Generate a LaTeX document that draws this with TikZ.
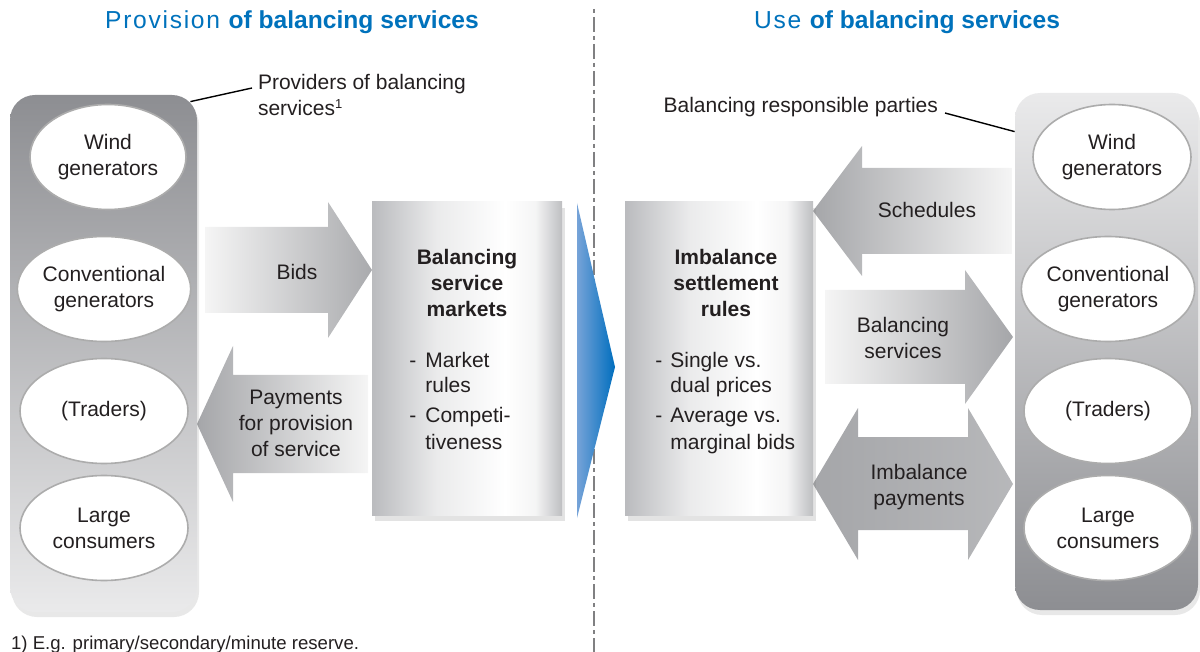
\documentclass[tikz,border=0pt]{standalone}
\usepackage{fontspec}
\setmainfont{Liberation Sans}
\usetikzlibrary{shapes.geometric,shadows}
\definecolor{titleblue}{RGB}{0,114,188}
\definecolor{txtgrey}{RGB}{35,31,32}
\definecolor{paneldark}{RGB}{141,142,146}
\definecolor{panellight}{RGB}{234,234,235}
\definecolor{boxedge}{RGB}{186,187,190}
\definecolor{arrowdark}{RGB}{165,166,169}
\definecolor{arrowlight}{RGB}{245,245,245}
\definecolor{lightblue}{RGB}{118,163,216}
\definecolor{darkblue}{RGB}{0,110,190}
\definecolor{divgrey}{RGB}{128,128,130}
% horizontal fill of the two rule boxes
\pgfdeclarehorizontalshading{rulefill}{100bp}{color(0bp)=(boxedge); color(25bp)=(boxedge);
  color(42bp)=(white!70!boxedge); color(60bp)=(white); color(68bp)=(white!85!boxedge);
  color(75bp)=(boxedge!95!white); color(100bp)=(boxedge!95!white)}
\newcommand{\lighttitle}[1]{{\addfontfeatures{LetterSpace=7}#1}}

\begin{document}
\begin{tikzpicture}[x=0.5pt, y=-0.5pt,
    every node/.style={font=\fontsize{10.5}{13}\selectfont, text=txtgrey},
    title/.style={font=\fontsize{12.3}{15}\selectfont, text=titleblue},
    party/.style={ellipse, draw=gray!65, line width=0.8pt, fill=white,
      minimum width=84pt, minimum height=52.5pt, inner sep=0pt, align=center},
    panel/.style={rounded corners=12.5pt, minimum height=258.5pt,
      drop shadow={opacity=0.18, shadow xshift=1pt, shadow yshift=-2.5pt}},
    rulebox/.style={shading=rulefill, minimum width=95pt, minimum height=156.5pt,
      drop shadow={opacity=0.22, shadow xshift=1.5pt, shadow yshift=-3pt}},
    boxtitle/.style={align=center, font=\bfseries\fontsize{10.5}{13}\selectfont},
    flowlabel/.style={align=center},
    callout/.style={line width=0.7pt, black}
  ]
    \useasboundingbox (0,0) rectangle (1200,652);

    % Titles
    \node[title] (provtitle) at (292,22) {\lighttitle{Provision} \textbf{of balancing services}};
    \node[title] (usetitle) at (907,22) {\lighttitle{Use} \textbf{of balancing services}};

    % Divider
    \coordinate (divtop) at (594,9);
    \coordinate (divbot) at (594,652);
    \draw[divgrey, line width=1.2pt, dash pattern=on 2pt off 2pt on 7.5pt off 2pt] (divtop) -- (divbot);

    % Flow arrows, left side
    \shade[left color=arrowlight, right color=arrowdark!95]
      (205,227) -- (328,227) -- (328,202) -- (372,270) -- (328,338) -- (328,313) -- (205,313) -- cycle;
    \node (bids) at (297,272) {Bids};
    \shade[left color=arrowdark, right color=arrowlight]
      (197,424) -- (233,346) -- (233,375) -- (368,375) -- (368,473) -- (233,473) -- (233,502) -- cycle;
    \node[flowlabel] (pay) at (296,423) {Payments\\for provision\\of service};

    % Flow arrows, right side
    \shade[left color=arrowdark, right color=arrowlight]
      (813,211) -- (862,146) -- (862,168) -- (1012,168) -- (1012,254) -- (862,254) -- (862,276) -- cycle;
    \node (sched) at (927,210) {Schedules};
    \shade[left color=arrowlight, right color=arrowdark]
      (825,290) -- (965,290) -- (965,270) -- (1013,337) -- (965,404) -- (965,384) -- (825,384) -- cycle;
    \node[flowlabel] (balserv) at (903,338) {Balancing\\services};
    \shade[left color=arrowdark, middle color=arrowlight, right color=arrowdark!80!white]
      (813,484) -- (858,408) -- (858,437) -- (968,437) -- (968,408) -- (1013,484)
      -- (968,560) -- (968,530) -- (858,530) -- (858,560) -- cycle;
    \node[flowlabel] (imbpay) at (919,487) {Imbalance\\payments};

    % Blue transfer arrow
    \shade[left color=lightblue, right color=darkblue] (577,203) -- (615,367) -- (577,518) -- cycle;

    % Balancing service markets
    \node[rulebox] (bsm) at (467,358.5) {};
    \node[boxtitle] (bsmtitle) at (467,283) {Balancing\\service\\markets};
    \node[anchor=base west, inner sep=0pt] (bsmlist) at (409,367) {%
      \begin{tabular}[t]{@{}l@{\hspace{4.5pt}}l@{}}
        - & Market\\ & rules\\[2pt]
        - & Competi-\\ & tiveness
      \end{tabular}};

    % Imbalance settlement rules
    \node[rulebox, minimum width=94pt] (isr) at (719,358.5) {};
    \node[boxtitle] (isrtitle) at (726,283) {Imbalance\\settlement\\rules};
    \node[anchor=base west, inner sep=0pt] (isrlist) at (655,367) {%
      \begin{tabular}[t]{@{}l@{\hspace{4pt}}l@{}}
        - & Single vs.\\ & dual prices\\[2pt]
        - & Average vs.\\ & marginal bids
      \end{tabular}};

    % Providers panel
    \node[panel, minimum width=93.5pt, top color=paneldark, bottom color=panellight] (lpanel) at (103.5,353.5) {};
    \node[party, minimum width=78pt] (lwind) at (108,157) {Wind\\generators};
    \node[party] (lconv) at (104,289) {Conventional\\generators};
    \node[party] (ltrad) at (104,411) {(Traders)};
    \node[party] (llarge) at (104,528) {Large\\consumers};

    % Balancing responsible parties panel
    \node[panel, minimum width=91.5pt, top color=panellight, bottom color=paneldark] (rpanel) at (1106.5,351.5) {};
    \node[party, minimum width=79pt] (rwind) at (1112,157) {Wind\\generators};
    \node[party] (rconv) at (1108,289) {Conventional\\generators};
    \node[party] (rtrad) at (1108,411) {(Traders)};
    \node[party] (rlarge) at (1108,528) {Large\\consumers};

    % Callouts
    \node[anchor=west, align=left] (provlbl) at (251,95) {Providers of balancing\\services\raisebox{3.6pt}{\fontsize{6.5}{7}\selectfont 1}};
    \coordinate (provtip) at (252,88);
    \draw[callout] ([shift={(-7,7)}]lpanel.north east) -- (provtip);
    \node[anchor=east] (brplbl) at (945,107) {Balancing responsible parties};
    \draw[callout] ([shift={(0,6)}]brplbl.east) -- ([shift={(0,39)}]rpanel.north west);

    % Footnote
    \node[anchor=west, font=\fontsize{9.3}{11}\selectfont] (fnote) at (4,645) {1) E.g. primary/secondary/minute reserve.};
\end{tikzpicture}
\end{document}
